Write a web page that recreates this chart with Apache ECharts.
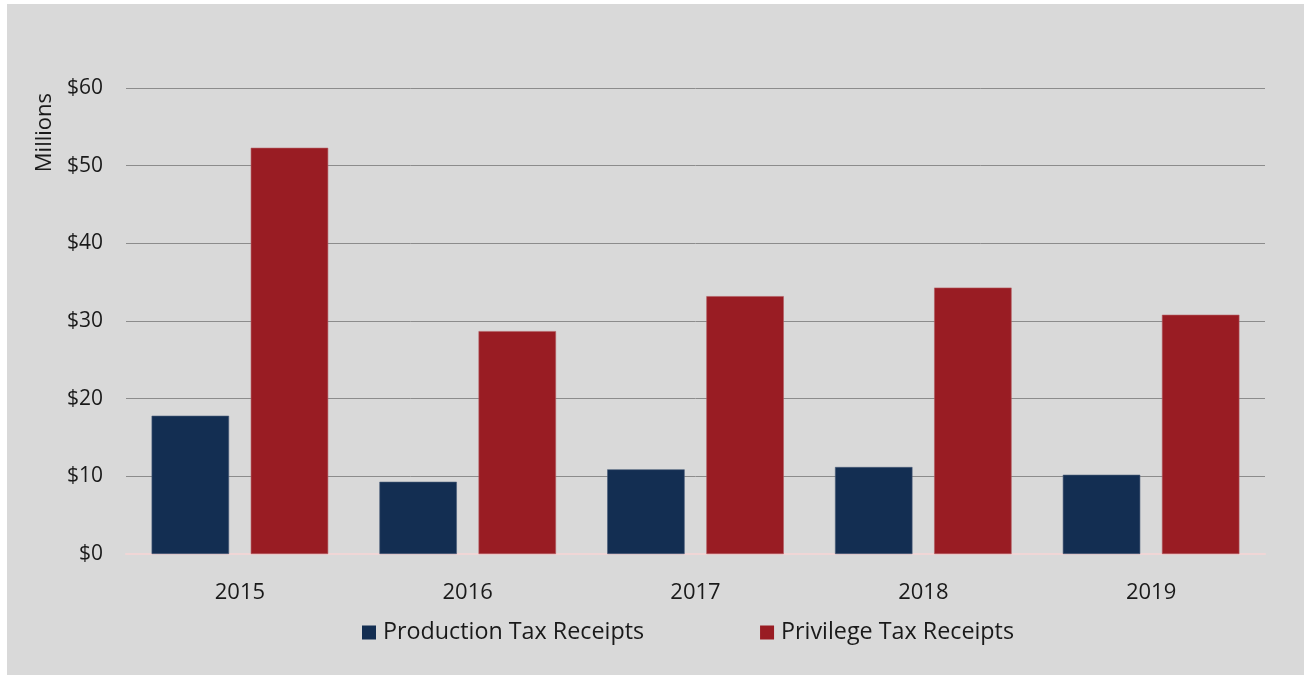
<!DOCTYPE html>
<html>
<head>
<meta charset="utf-8">
<script src="https://cdn.jsdelivr.net/npm/echarts@6/dist/echarts.min.js"></script>
<style>
html,body{margin:0;padding:0;background:#ffffff;width:1304px;height:675px;overflow:hidden;}
#chart{position:absolute;left:7px;top:4px;width:1297px;height:671px;}
</style>
</head>
<body>
<div id="chart"></div>
<script>
const categories = ['2015', '2016', '2017', '2018', '2019'];
const productionTax = [17.8, 9.3, 10.9, 11.2, 10.2];
const privilegeTax = [52.3, 28.7, 33.2, 34.3, 30.8];
const yTicks = { min: 0, max: 60, interval: 10 };

const FONT = 'Open Sans';
const chart = echarts.init(document.getElementById('chart'), null, { renderer: 'canvas' });
chart.setOption({
  backgroundColor: '#d9d9d9',
  animation: false,
  textStyle: { fontFamily: FONT },
  grid: { left: 119, right: 39, top: 84, bottom: 121, containLabel: false },
  legend: {
    bottom: 31,
    left: 355,
    padding: 0,
    itemWidth: 14,
    itemHeight: 14,
    itemGap: 116,
    icon: 'rect',
    itemStyle: { borderWidth: 0 },
    textStyle: { fontFamily: FONT, fontSize: 23.3, color: '#1a1a1a', padding: [0, 0, 0, 2] },
    data: ['Production Tax Receipts', 'Privilege Tax Receipts']
  },
  graphic: [{
    type: 'text',
    left: 27,
    top: 89,
    rotation: Math.PI / 2,
    style: { text: 'Millions', fontFamily: FONT, fontSize: 22, fill: '#1a1a1a' }
  }],
  xAxis: {
    type: 'category',
    data: categories,
    axisLine: { show: true, lineStyle: { color: '#f0d6d6', width: 2 } },
    axisTick: { show: false },
    axisLabel: { color: '#1a1a1a', fontSize: 22, fontFamily: FONT, margin: 28 }
  },
  yAxis: {
    type: 'value',
    min: yTicks.min,
    max: yTicks.max,
    interval: yTicks.interval,
    axisLine: { show: false },
    axisTick: { show: false },
    axisLabel: { color: '#1a1a1a', fontSize: 21, fontFamily: FONT, margin: 23, formatter: v => '$' + v },
    splitLine: { lineStyle: { color: '#8c8c8c', width: 1 } }
  },
  series: [
    {
      name: 'Production Tax Receipts',
      type: 'bar',
      data: productionTax,
      barWidth: '34%',
      barGap: '28%',
      itemStyle: { color: '#132e52', borderColor: '#4a5d78', borderWidth: 0.6 }
    },
    {
      name: 'Privilege Tax Receipts',
      type: 'bar',
      data: privilegeTax,
      barWidth: '34%',
      itemStyle: { color: '#991c23', borderColor: '#b35a5f', borderWidth: 0.6 }
    }
  ]
});
</script>
</body>
</html>
